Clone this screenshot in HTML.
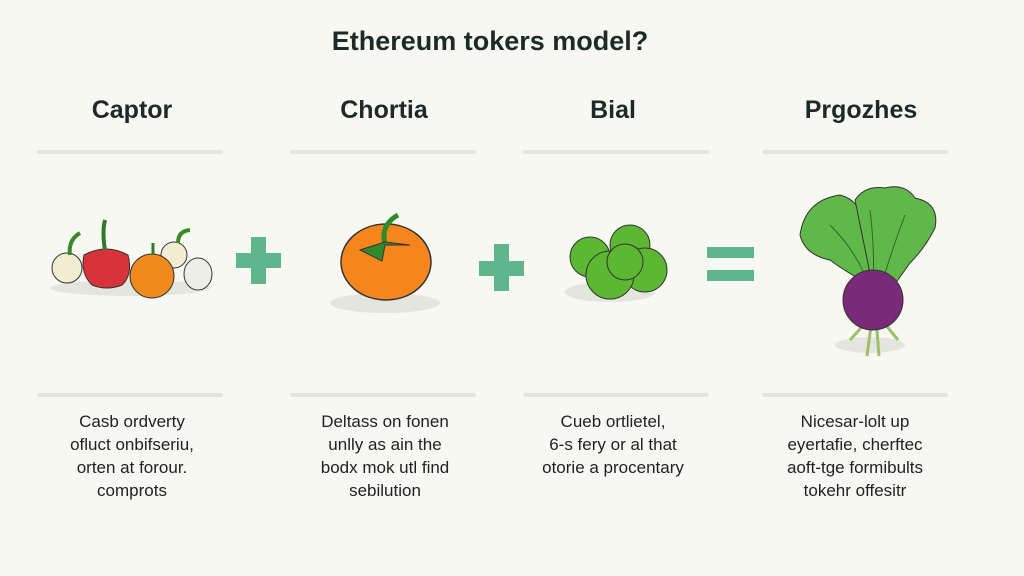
<!DOCTYPE html>
<html><head><meta charset="utf-8"><style>
body{margin:0;width:1024px;height:576px;background:#f7f8f2;position:relative;overflow:hidden;font-family:"Liberation Sans",sans-serif;color:#1e2a28}
.t{position:absolute;white-space:nowrap;transform:translateX(-50%);text-align:center}
.h{font-weight:bold;font-size:25px;top:96px}
.p{font-size:17px;line-height:23px;top:410px;color:#222}
.ln{position:absolute;height:4px;background:#e4e5df;border-radius:2px}
</style></head><body>
<div class="t" style="left:490px;top:26px;font-size:27px;font-weight:bold">Ethereum tokers model?</div>
<div class="t h" style="left:132px">Captor</div>
<div class="t h" style="left:384px">Chortia</div>
<div class="t h" style="left:613px">Bial</div>
<div class="t h" style="left:861px">Prgozhes</div>
<div class="ln" style="left:37px;top:150px;width:186px"></div>
<div class="ln" style="left:290px;top:150px;width:186px"></div>
<div class="ln" style="left:523px;top:150px;width:186px"></div>
<div class="ln" style="left:762px;top:150px;width:186px"></div>
<div class="ln" style="left:37px;top:393px;width:186px"></div>
<div class="ln" style="left:290px;top:393px;width:186px"></div>
<div class="ln" style="left:523px;top:393px;width:186px"></div>
<div class="ln" style="left:762px;top:393px;width:186px"></div>
<div class="t p" style="left:132px">Casb ordverty<br>ofluct onbifseriu,<br>orten at forour.<br>comprots</div>
<div class="t p" style="left:385px">Deltass on fonen<br>unlly as ain the<br>bodx mok utl find<br>sebilution</div>
<div class="t p" style="left:613px">Cueb ortlietel,<br>6-s fery or al that<br>otorie a procentary</div>
<div class="t p" style="left:855px">Nicesar-lolt up<br>eyertafie, cherftec<br>aoft-tge formibults<br>tokehr offesitr</div>
<svg width="1024" height="576" style="position:absolute;left:0;top:0">
<g fill="#5fb58c"><rect x="236" y="253" width="45" height="15"/><rect x="251" y="237" width="15" height="47"/>
<rect x="479" y="261" width="45" height="15"/><rect x="494" y="244" width="15" height="47"/>
<rect x="707" y="247" width="47" height="11"/><rect x="707" y="270" width="47" height="11"/></g>
<g stroke="#333" stroke-width="1">
<ellipse cx="130" cy="288" rx="80" ry="8" fill="#e4e6de" stroke="none"/>
<circle cx="67" cy="268" r="15" fill="#f1ecd2"/><path d="M70 255 q-2 -15 10 -22" stroke="#3a8a2a" stroke-width="4" fill="none"/>
<path d="M84 255 q22 -12 44 0 q5 20 -6 30 q-15 6 -30 0 q-12 -12 -8 -30z" fill="#d8323a"/><path d="M105 250 q-3 -18 0 -30" stroke="#2f7a2a" stroke-width="4" fill="none"/>
<circle cx="174" cy="255" r="13" fill="#f1ecd2"/><path d="M178 243 q0 -12 12 -13" stroke="#3a8a2a" stroke-width="4" fill="none"/>
<ellipse cx="198" cy="274" rx="14" ry="16" fill="#eeeee8"/>
<circle cx="152" cy="276" r="22" fill="#f08a1c"/><path d="M153 255 v-12" stroke="#2f7a2a" stroke-width="3"/>
<ellipse cx="385" cy="303" rx="55" ry="10" fill="#e4e6de" stroke="none"/>
<ellipse cx="386" cy="262" rx="45" ry="38" fill="#f5861e" stroke-width="1.5"/>
<path d="M385 245 q-5 -20 13 -30" stroke="#2f8a2a" stroke-width="5" fill="none"/>
<path d="M360 250 l25 -8 l25 3 l-25 0 l-3 16 z" fill="#2f8a2a"/>
<ellipse cx="610" cy="292" rx="45" ry="10" fill="#e4e6de" stroke="none"/>
<g fill="#5cb833"><circle cx="590" cy="257" r="20"/><circle cx="630" cy="245" r="20"/><circle cx="645" cy="270" r="22"/><circle cx="610" cy="275" r="24"/><circle cx="625" cy="262" r="18"/></g>
<ellipse cx="870" cy="345" rx="35" ry="8" fill="#e4e6de" stroke="none"/>
<g stroke="#9cc06a" stroke-width="3"><path d="M870 318 l-20 22 M872 318 l-5 38 M876 318 l3 38 M880 318 l18 22"/></g>
<g fill="#5fb848"><path d="M800 235 q5 -35 40 -40 q20 5 25 30 l15 65 q-30 -15 -50 -30 q-25 -5 -30 -25z"/>
<path d="M855 200 q10 -15 30 -12 q20 -5 30 10 q25 5 20 30 q-10 20 -25 35 l-25 35 h-10 z"/></g>
<g stroke="#2e6a25" fill="none"><path d="M830 225 q30 30 40 65 M870 210 q5 40 3 80 M905 215 q-15 40 -25 75"/></g>
<circle cx="873" cy="300" r="30" fill="#7a2a78"/>
</g>
</svg>
</body></html>
